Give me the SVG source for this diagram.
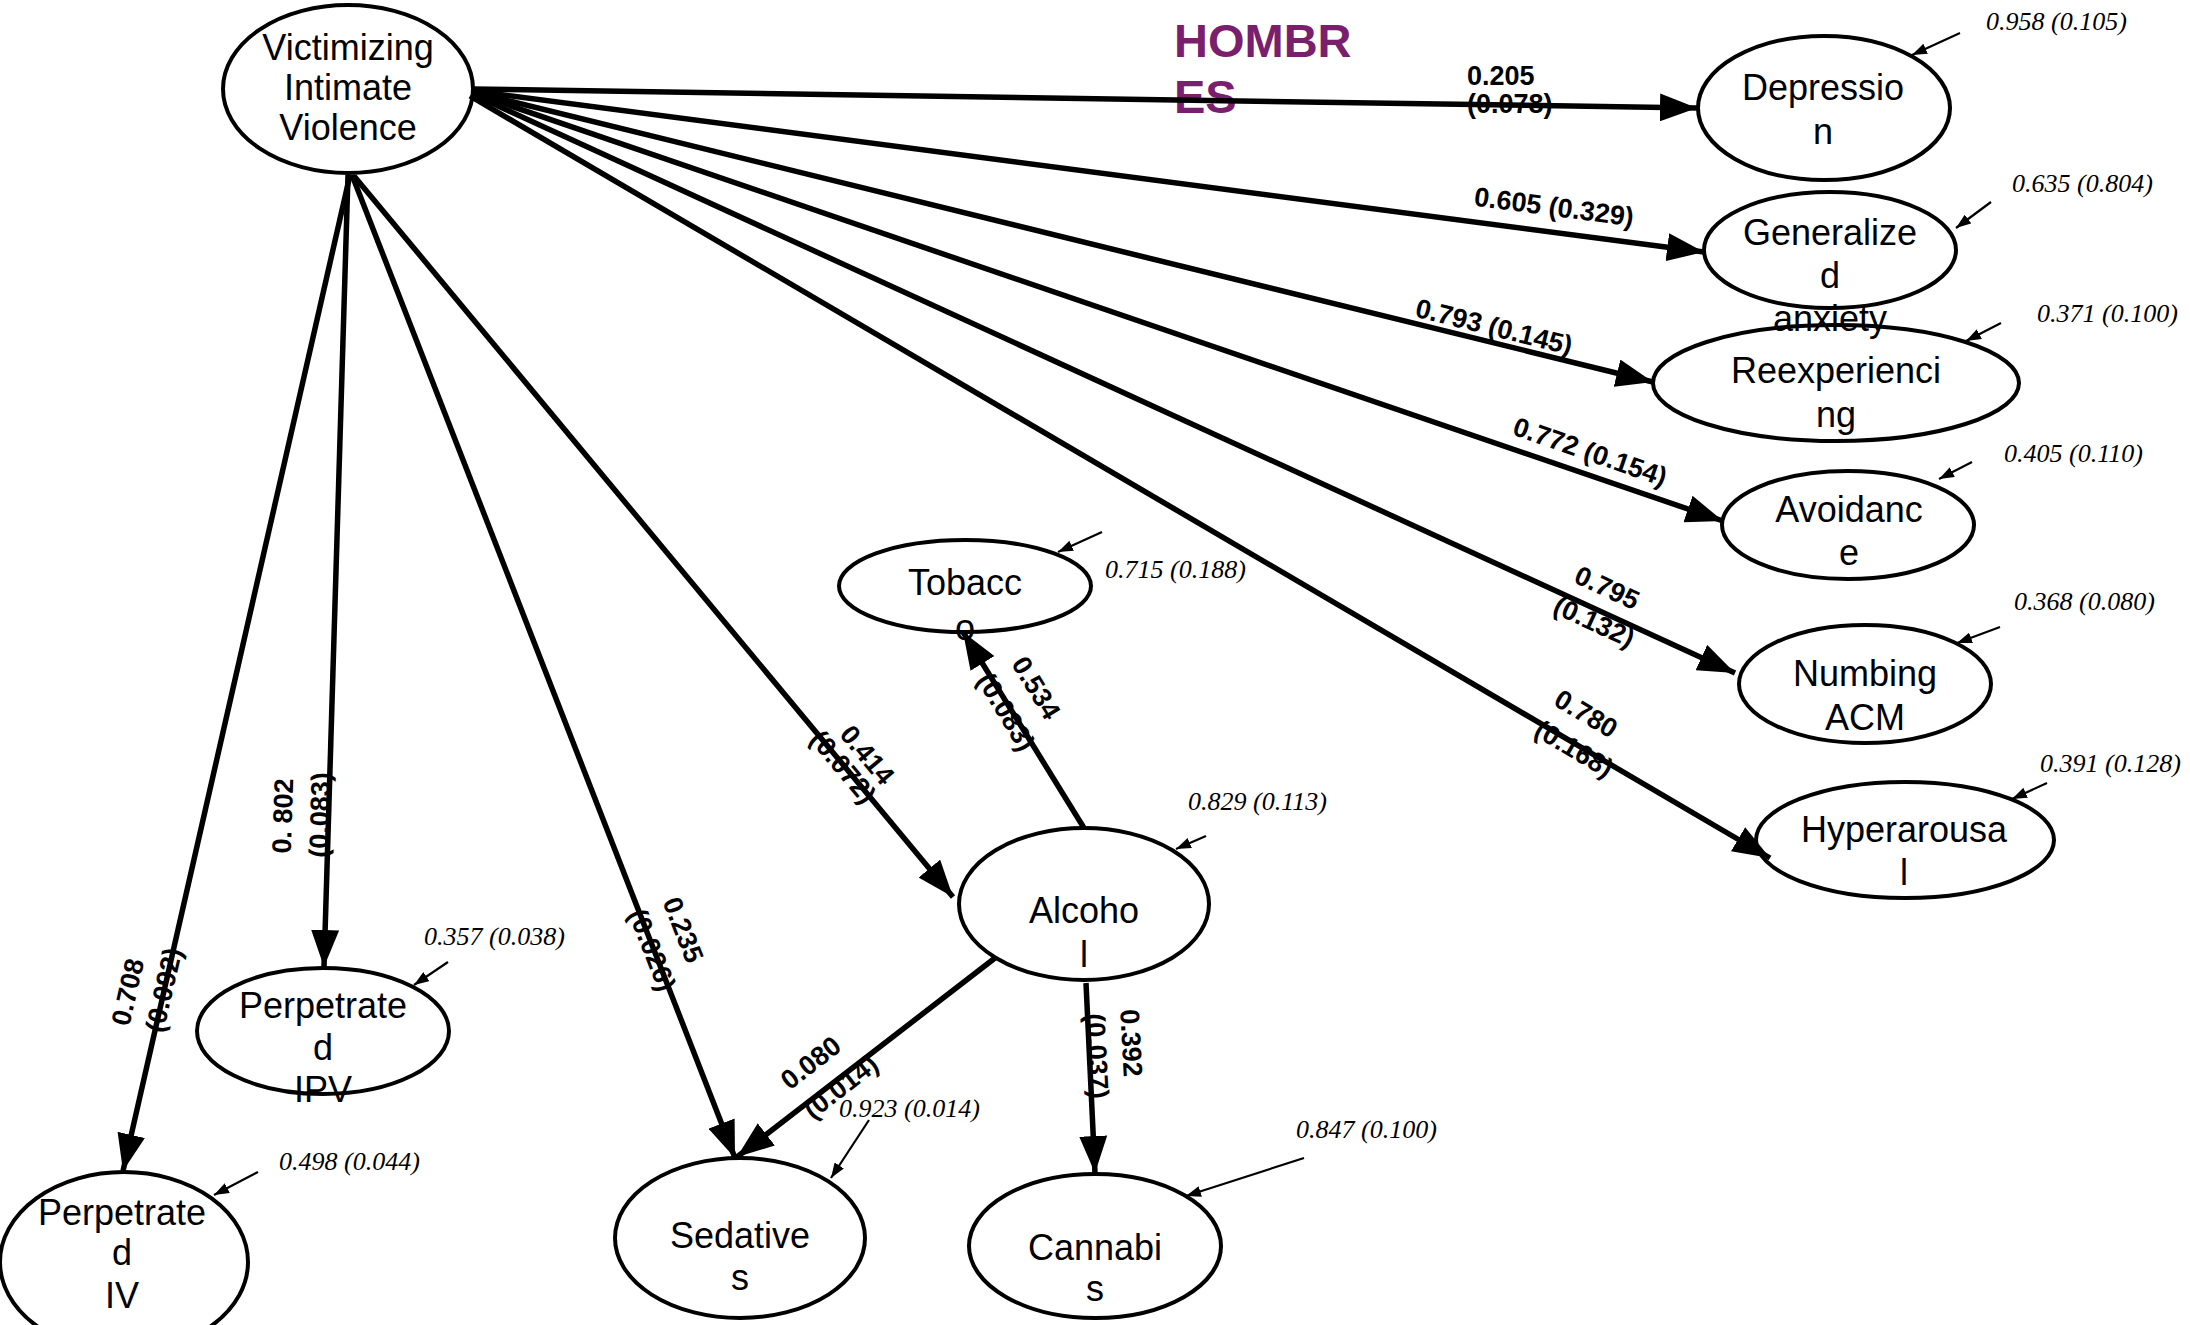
<svg xmlns="http://www.w3.org/2000/svg" width="2190" height="1325" viewBox="0 0 2190 1325">
<style>
.nd{fill:none;stroke:#000;stroke-width:4}
.nt{font-family:"Liberation Sans",Arial,sans-serif;font-size:36px;fill:#000;text-anchor:middle}
.el{font-family:"Liberation Sans",Arial,sans-serif;font-size:27px;font-weight:bold;fill:#000;text-anchor:middle}
.er{font-family:"Liberation Serif","Times New Roman",serif;font-size:26px;font-style:italic;fill:#000}
.ed{stroke:#000;stroke-width:5.5;fill:none;marker-end:url(#ah)}
.ee{stroke:#000;stroke-width:2.2;fill:none;marker-end:url(#sa)}
.ttl{font-family:"Liberation Sans",Arial,sans-serif;font-size:47px;font-weight:bold;fill:#7a1f6e}
</style>
<defs>
<marker id="ah" viewBox="0 0 37 28" refX="37" refY="14" markerWidth="37" markerHeight="28" markerUnits="userSpaceOnUse" orient="auto"><path d="M0,0 L37,14 L0,28 z" fill="#000"/></marker>
<marker id="sa" viewBox="0 0 15 11" refX="15" refY="5.5" markerWidth="15" markerHeight="11" markerUnits="userSpaceOnUse" orient="auto"><path d="M0,0 L15,5.5 L0,11 z" fill="#000"/></marker>
</defs>
<rect width="2190" height="1325" fill="#fff"/>
<text class="ttl" x="1174" y="57">HOMBR</text>
<text class="ttl" x="1174" y="113">ES</text>

<g id="connectors">
<line class="ed" x1="472" y1="89" x2="1697" y2="108"/>
<line class="ed" x1="473" y1="91" x2="1704" y2="252"/>
<line class="ed" x1="473" y1="92" x2="1653" y2="382"/>
<line class="ed" x1="473" y1="93" x2="1723" y2="521"/>
<line class="ed" x1="472" y1="94" x2="1735" y2="673"/>
<line class="ed" x1="470" y1="96" x2="1770" y2="858"/>
<line class="ed" x1="350" y1="175" x2="123" y2="1171"/>
<line class="ed" x1="348" y1="175" x2="324" y2="967"/>
<line class="ed" x1="352" y1="175" x2="735" y2="1158"/>
<line class="ed" x1="354" y1="176" x2="953" y2="897"/>
<line class="ed" x1="1084" y1="828" x2="963" y2="632"/>
<line class="ed" x1="995" y1="958" x2="737" y2="1157"/>
<line class="ed" x1="1086" y1="983" x2="1095" y2="1173"/>
<line class="ee" x1="1960" y1="33" x2="1912" y2="55"/>
<line class="ee" x1="1991" y1="202" x2="1956" y2="228"/>
<line class="ee" x1="2001" y1="323" x2="1966" y2="341"/>
<line class="ee" x1="1972" y1="462" x2="1939" y2="479"/>
<line class="ee" x1="2000" y1="627" x2="1957" y2="643"/>
<line class="ee" x1="2047" y1="783" x2="2012" y2="799"/>
<line class="ee" x1="1102" y1="532" x2="1058" y2="552"/>
<line class="ee" x1="1206" y1="836" x2="1176" y2="849"/>
<line class="ee" x1="869" y1="1120" x2="831" y2="1178"/>
<line class="ee" x1="1304" y1="1158" x2="1186" y2="1196"/>
<line class="ee" x1="448" y1="962" x2="414" y2="985"/>
<line class="ee" x1="258" y1="1172" x2="214" y2="1195"/>
<text class="el" x="1467" y="85" style="text-anchor:start">0.205</text>
<text class="el" x="1467" y="113" style="text-anchor:start">(0.078)</text>
<text class="el" x="1554" y="216" transform="rotate(7.5 1554 207)">0.605 (0.329)</text>
<text class="el" x="1494" y="336" transform="rotate(13.9 1494 327)">0.793 (0.145)</text>
<text class="el" x="1590" y="461" transform="rotate(19 1590 452)">0.772 (0.154)</text>
<text class="el" x="1607" y="597" transform="rotate(24.8 1607 588)">0.795</text>
<text class="el" x="1594" y="631" transform="rotate(24.8 1594 622)">(0.132)</text>
<text class="el" x="1586" y="723" transform="rotate(30.6 1586 714)">0.780</text>
<text class="el" x="1574" y="758" transform="rotate(30.6 1574 749)">(0.168)</text>
<text class="el" x="283" y="825" transform="rotate(-88.2 283 816)">0. 802</text>
<text class="el" x="320" y="824" transform="rotate(-88.2 320 815)">(0.083)</text>
<text class="el" x="128" y="1001" transform="rotate(-77.2 128 992)">0.708</text>
<text class="el" x="164" y="999" transform="rotate(-77.2 164 990)">(0.092)</text>
<text class="el" x="683" y="939" transform="rotate(68.7 683 930)">0.235</text>
<text class="el" x="652" y="959" transform="rotate(68.7 652 950)">(0.026)</text>
<text class="el" x="867" y="764" transform="rotate(50 867 755)">0.414</text>
<text class="el" x="843" y="776" transform="rotate(50 843 767)">(0.072)</text>
<text class="el" x="1036" y="697" transform="rotate(58.7 1036 688)">0.534</text>
<text class="el" x="1006" y="721" transform="rotate(58.7 1006 712)">(0.083)</text>
<text class="el" x="1131" y="1052" transform="rotate(87 1131 1043)">0.392</text>
<text class="el" x="1097" y="1065" transform="rotate(87 1097 1056)">(0.037)</text>
<text class="el" x="811" y="1072" transform="rotate(-37.8 811 1063)">0.080</text>
<text class="el" x="841" y="1096" transform="rotate(-37.8 841 1087)">(0.014)</text>
<text class="er" x="1986" y="30">0.958 (0.105)</text>
<text class="er" x="2012" y="192">0.635 (0.804)</text>
<text class="er" x="2037" y="322">0.371 (0.100)</text>
<text class="er" x="2004" y="462">0.405 (0.110)</text>
<text class="er" x="2014" y="610">0.368 (0.080)</text>
<text class="er" x="2040" y="772">0.391 (0.128)</text>
<text class="er" x="1105" y="578">0.715 (0.188)</text>
<text class="er" x="1188" y="810">0.829 (0.113)</text>
<text class="er" x="839" y="1117">0.923 (0.014)</text>
<text class="er" x="1296" y="1138">0.847 (0.100)</text>
<text class="er" x="424" y="945">0.357 (0.038)</text>
<text class="er" x="279" y="1170">0.498 (0.044)</text>
</g>

<g id="viv"><ellipse class="nd" cx="348" cy="89" rx="125" ry="84"/>
<text class="nt" x="348" y="60">Victimizing</text><text class="nt" x="348" y="100">Intimate</text><text class="nt" x="348" y="140">Violence</text></g>
<g id="depression"><ellipse class="nd" cx="1824" cy="108" rx="126" ry="72"/>
<text class="nt" x="1823" y="100">Depressio</text><text class="nt" x="1823" y="144">n</text></g>
<g id="genanx"><ellipse class="nd" cx="1830" cy="250" rx="126" ry="58"/>
<text class="nt" x="1830" y="245">Generalize</text><text class="nt" x="1830" y="288">d</text><text class="nt" x="1830" y="331">anxiety</text></g>
<g id="reexp"><ellipse class="nd" cx="1836" cy="383" rx="183" ry="58"/>
<text class="nt" x="1836" y="383">Reexperienci</text><text class="nt" x="1836" y="427">ng</text></g>
<g id="avoid"><ellipse class="nd" cx="1848" cy="525" rx="126" ry="54"/>
<text class="nt" x="1849" y="522">Avoidanc</text><text class="nt" x="1849" y="565">e</text></g>
<g id="numbing"><ellipse class="nd" cx="1865" cy="684" rx="126" ry="59"/>
<text class="nt" x="1865" y="686">Numbing</text><text class="nt" x="1865" y="730">ACM</text></g>
<g id="hyper"><ellipse class="nd" cx="1905" cy="840" rx="149" ry="58"/>
<text class="nt" x="1904" y="842">Hyperarousa</text><text class="nt" x="1904" y="885">l</text></g>
<g id="tobacco"><ellipse class="nd" cx="965" cy="586" rx="126" ry="46"/>
<text class="nt" x="965" y="595">Tobacc</text><text class="nt" x="965" y="640">o</text></g>
<g id="alcohol"><ellipse class="nd" cx="1084" cy="904" rx="125" ry="76"/>
<text class="nt" x="1084" y="923">Alcoho</text><text class="nt" x="1084" y="967">l</text></g>
<g id="sedatives"><ellipse class="nd" cx="740" cy="1238" rx="125" ry="80"/>
<text class="nt" x="740" y="1248">Sedative</text><text class="nt" x="740" y="1290">s</text></g>
<g id="cannabis"><ellipse class="nd" cx="1095" cy="1246" rx="126" ry="72"/>
<text class="nt" x="1095" y="1260">Cannabi</text><text class="nt" x="1095" y="1301">s</text></g>
<g id="pipv"><ellipse class="nd" cx="323" cy="1031" rx="126" ry="63"/>
<text class="nt" x="323" y="1018">Perpetrate</text><text class="nt" x="323" y="1060">d</text><text class="nt" x="323" y="1102">IPV</text></g>
<g id="piv"><ellipse class="nd" cx="124" cy="1262" rx="124" ry="90"/>
<text class="nt" x="122" y="1225">Perpetrate</text><text class="nt" x="122" y="1265">d</text><text class="nt" x="122" y="1308">IV</text></g>
</svg>
